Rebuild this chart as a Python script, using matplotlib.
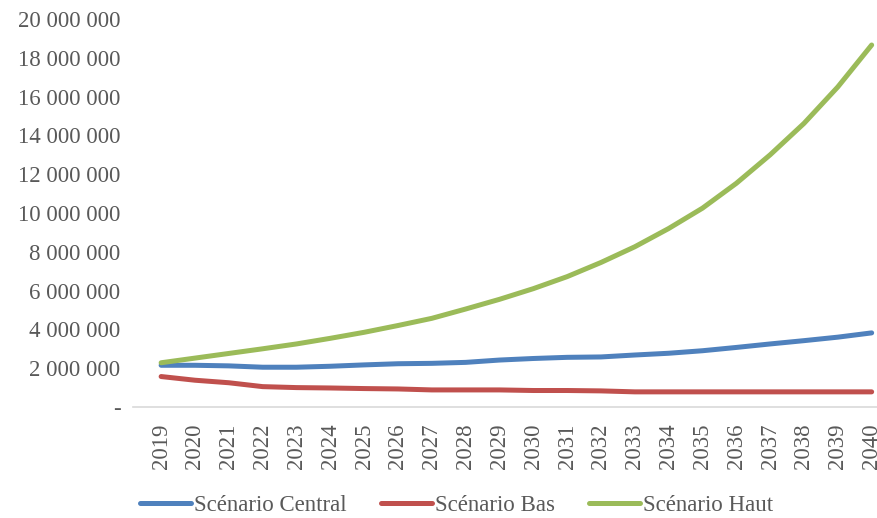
import matplotlib
matplotlib.use("Agg")
import matplotlib.pyplot as plt
from matplotlib.ticker import FuncFormatter

years = list(range(2019, 2041))
central = [2.15, 2.15, 2.12, 2.05, 2.05, 2.10, 2.17, 2.23, 2.25, 2.30, 2.42,
           2.50, 2.56, 2.58, 2.68, 2.77, 2.90, 3.07, 3.25, 3.42, 3.60, 3.82]
bas = [1.57, 1.38, 1.25, 1.05, 1.00, 0.98, 0.95, 0.93, 0.88, 0.88, 0.88,
       0.85, 0.85, 0.83, 0.78, 0.78, 0.78, 0.78, 0.78, 0.78, 0.78, 0.78]
haut = [2.28, 2.52, 2.76, 3.00, 3.25, 3.54, 3.85, 4.20, 4.57, 5.05, 5.55,
        6.10, 6.72, 7.45, 8.26, 9.20, 10.25, 11.53, 13.00, 14.62, 16.50, 18.66]
labels = ["Scénario Central", "Scénario Bas", "Scénario Haut"]
colors = ["#4F81BD", "#C0504D", "#9BBB59"]

plt.rcParams['font.family'] = ['Liberation Serif', 'DejaVu Serif']
txt = "#595959"

fig = plt.figure(figsize=(8.77, 5.18), dpi=100)
ax = fig.add_axes([0.1517, 0.2143, 0.848, 0.749])

x = list(range(len(years)))
for vals, lab, c in zip([central, bas, haut], labels, colors):
    ax.plot(x, [v * 1e6 for v in vals], color=c, lw=3.6, label=lab,
            solid_capstyle='round', clip_on=False)

ax.set_xlim(-0.83, 21.15)
ax.set_ylim(0, 20e6)
ax.set_yticks([i * 2e6 for i in range(11)])
ax.yaxis.set_major_formatter(FuncFormatter(
    lambda v, p: "-" if v == 0 else f"{int(v):,}".replace(",", " ")))
ax.set_xticks(x)
ax.set_xticklabels([str(y) for y in years], rotation=90)
ax.tick_params(axis='both', length=0, labelsize=16.5, colors=txt)
ax.tick_params(axis='y', pad=9)
ax.tick_params(axis='x', pad=12)
for s in ['top', 'right', 'left']:
    ax.spines[s].set_visible(False)
ax.spines['bottom'].set_color("#D9D9D9")
ax.spines['bottom'].set_linewidth(1.2)

fig.legend(loc='center', bbox_to_anchor=(0.521, 0.024), ncol=3,
           frameon=False, fontsize=16.5, labelcolor=txt, handlelength=2.2,
           handletextpad=0.15, columnspacing=1.5)

fig.savefig("out.png", dpi=100)
